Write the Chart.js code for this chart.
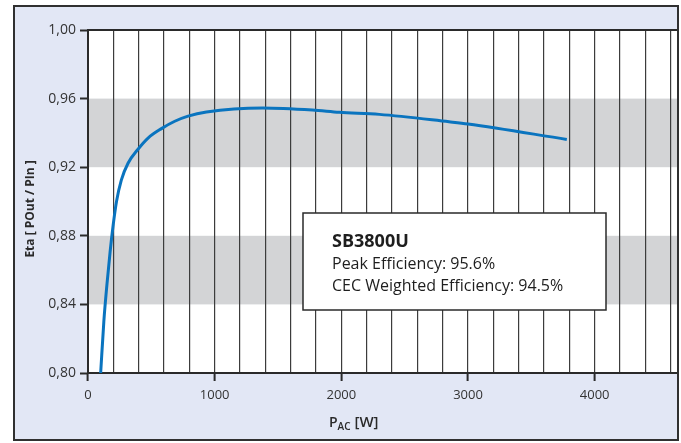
<!DOCTYPE html>
<html><head><meta charset="utf-8">
<script src="https://cdn.jsdelivr.net/npm/chart.js@4/dist/chart.umd.min.js"></script>
<style>html,body{margin:0;padding:0;background:#fff;overflow:hidden}#wrap{width:681px;height:443px}</style>
</head><body><div id="wrap"><canvas id="c" width="681" height="443"></canvas></div>
<script>
// ---- data ----
const powerW     = [100, 125, 150, 175, 200, 225, 263, 316, 395, 474, 580, 685, 790, 935, 1380, 1772, 1984, 2300, 2850, 3000, 3780];
const efficiency = [0.800, 0.830, 0.852, 0.871, 0.887, 0.900, 0.9125, 0.9223, 0.9305, 0.937, 0.9425, 0.9468, 0.9498, 0.9522, 0.9545, 0.9533, 0.952, 0.9508, 0.9465, 0.9452, 0.9362];
const yTicks = [0.80, 0.84, 0.88, 0.92, 0.96, 1.00];
const xGridStep = 200;
const xLabelStep = 1000;
const xMax = 4650;
const shadedBands = [[0.84, 0.88], [0.92, 0.96]];
const boxLines = ['SB3800U', 'Peak Efficiency: 95.6%', 'CEC Weighted Efficiency: 94.5%'];
const yTitle = 'Eta [ POut / PIn ]';
const xTitleMain = 'P', xTitleSub = 'AC', xTitleUnit = ' [W]';

const FONT = '"Open Sans", "DejaVu Sans", sans-serif';
const DARK = '#2a2a2a';

const xTickValues = [];
for (let v = 0; v <= xMax; v += xGridStep) xTickValues.push(v);

const decor = {
  id: 'decor',
  beforeDraw(chart) {
    const c = chart.ctx, a = chart.chartArea, ys = chart.scales.y;
    c.save();
    c.fillStyle = '#e2e7f5';
    c.fillRect(13, 5, 666, 436);
    c.fillStyle = '#ffffff';
    c.fillRect(a.left, a.top, a.right - a.left, a.bottom - a.top);
    c.fillStyle = '#d3d4d6';
    shadedBands.forEach(([lo, hi]) => {
      const y1 = ys.getPixelForValue(hi), y2 = ys.getPixelForValue(lo);
      c.fillRect(a.left, y1, a.right - a.left, y2 - y1);
    });
    c.restore();
  },
  afterDraw(chart) {
    const c = chart.ctx, a = chart.chartArea;
    c.save();
    c.strokeStyle = DARK; c.lineWidth = 2;
    c.beginPath(); c.moveTo(a.left, a.top); c.lineTo(a.right, a.top); c.stroke();
    c.strokeStyle = '#303030'; c.lineWidth = 2;
    c.strokeRect(14, 6, 664, 434);
    // y title
    c.fillStyle = DARK;
    c.font = 'bold 12px ' + FONT;
    c.textAlign = 'center'; c.textBaseline = 'middle';
    c.save(); c.translate(31, 209); c.rotate(-Math.PI / 2);
    c.fillText(yTitle, 0, 0); c.restore();
    // x title with subscript
    c.textAlign = 'left'; c.textBaseline = 'alphabetic';
    let x = 329; const base = 427;
    c.font = '600 14px ' + FONT; c.fillText(xTitleMain, x, base); x += c.measureText(xTitleMain).width;
    c.font = '600 10px ' + FONT; c.fillText(xTitleSub, x, base + 3); x += c.measureText(xTitleSub).width;
    c.font = '600 15px ' + FONT; c.fillText(xTitleUnit, x, base);
    // annotation box
    const bx = 303, by = 213, bw = 303, bh = 97;
    c.fillStyle = '#ffffff'; c.fillRect(bx, by, bw, bh);
    c.strokeStyle = DARK; c.lineWidth = 1.5; c.strokeRect(bx, by, bw, bh);
    c.fillStyle = '#1e1e1e';
    c.font = 'bold 18px ' + FONT; c.fillText(boxLines[0], 332, 247);
    c.font = '16px ' + FONT;
    c.fillText(boxLines[1], 332, 269);
    c.fillText(boxLines[2], 332, 291);
    c.restore();
  }
};

new Chart(document.getElementById('c'), {
  type: 'line',
  data: {
    datasets: [{
      data: powerW.map((p, i) => ({ x: p, y: efficiency[i] })),
      borderColor: '#0a74bf',
      borderWidth: 3,
      pointRadius: 0,
      cubicInterpolationMode: 'monotone',
      fill: false,
      clip: false
    }]
  },
  options: {
    responsive: false,
    devicePixelRatio: 1,
    animation: false,
    layout: { padding: { left: 0, top: 30, right: 4, bottom: 0 } },
    plugins: { legend: { display: false }, tooltip: { enabled: false } },
    scales: {
      x: {
        type: 'linear', min: 0, max: xMax,
        afterBuildTicks: s => { s.ticks = xTickValues.map(v => ({ value: v })); },
        afterFit: s => { s.height = 70; },
        ticks: {
          autoSkip: false, maxRotation: 0, padding: 6,
          color: '#333', font: { family: FONT, size: 13 },
          callback: v => (v % xLabelStep === 0 ? String(v) : '')
        },
        grid: {
          color: '#3c3c3c', lineWidth: 1.2, drawTicks: true, tickLength: 8,
          tickColor: ctx => (ctx.tick && ctx.tick.value % xLabelStep === 0 ? DARK : 'rgba(0,0,0,0)'),
          tickWidth: 2
        },
        border: { display: true, color: DARK, width: 2 }
      },
      y: {
        type: 'linear', min: 0.8, max: 1.0,
        afterBuildTicks: s => { s.ticks = yTicks.map(v => ({ value: v })); },
        afterFit: s => { s.width = 88; },
        ticks: {
          padding: 4, color: '#333', font: { family: FONT, size: 14 },
          callback: v => Number(v).toFixed(2).replace('.', ',')
        },
        grid: { drawOnChartArea: false, drawTicks: true, tickLength: 8, tickColor: DARK, tickWidth: 2 },
        border: { display: true, color: DARK, width: 2 }
      }
    }
  },
  plugins: [decor]
});
</script>
</body></html>
